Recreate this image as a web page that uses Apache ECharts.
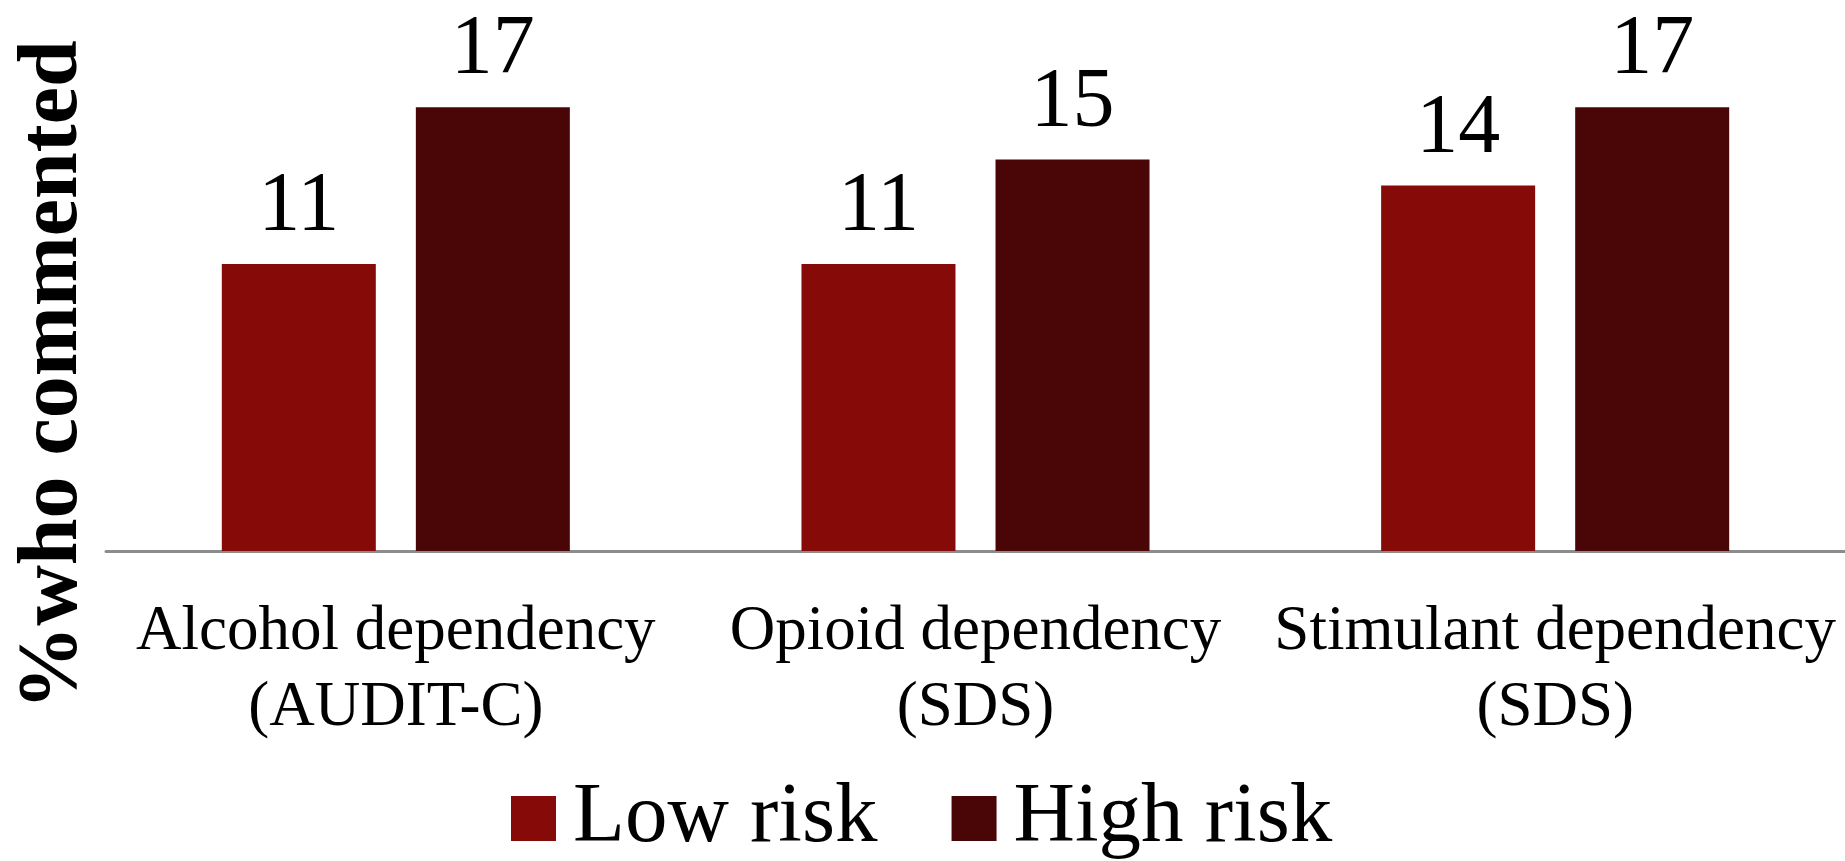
<!DOCTYPE html>
<html>
<head>
<meta charset="utf-8">
<title>% who commented</title>
<script src="https://cdn.jsdelivr.net/npm/echarts@6/dist/echarts.min.js"></script>
<style>
  html, body { margin: 0; padding: 0; background: #fff; }
  #chart { width: 1845px; height: 861px; }
</style>
</head>
<body>
<div id="chart"></div>
<script>
// data
const categories = ['Alcohol dependency\n(AUDIT-C)', 'Opioid dependency\n(SDS)', 'Stimulant dependency\n(SDS)']
const seriesNames = ['Low risk', 'High risk']
const lowRisk = [11, 11, 14]
const highRisk = [17, 15, 17]
const yTitle = '%who commented'

const serif = '"Liberation Serif", "DejaVu Serif", serif'
const chart = echarts.init(document.getElementById('chart'))

const option = {
  animation: false,
  color: ['#850a08', '#4a0606'],
  textStyle: { fontFamily: serif, color: '#000' },
  grid: { left: 106, right: 0, top: 29, bottom: 310 },
  legend: {
    data: seriesNames,
    left: 506,
    top: 771,
    itemWidth: 45,
    itemHeight: 45,
    itemGap: 74,
    icon: 'rect',
    itemStyle: { borderWidth: 0 },
    textStyle: { fontFamily: serif, fontSize: 85, color: '#000', padding: [0, 0, 0, 12] },
  },
  graphic: [
    {
      type: 'text',
      x: 54,
      y: 375,
      rotation: Math.PI / 2,
      style: {
        text: yTitle,
        font: 'bold 84px ' + serif,
        fill: '#000',
        align: 'center',
        verticalAlign: 'middle',
      },
    },
  ],
  xAxis: {
    type: 'category',
    data: categories,
    axisLine: { show: true, lineStyle: { color: '#8c8c8c', width: 3 } },
    axisTick: { show: false },
    axisLabel: {
      interval: 0,
      margin: 43,
      fontFamily: serif,
      fontSize: 63,
      lineHeight: 76,
      color: '#000',
    },
  },
  yAxis: {
    type: 'value',
    min: 0,
    max: 20,
    show: false,
    splitLine: { show: false },
  },
  series: [
    {
      name: seriesNames[0],
      type: 'bar',
      data: lowRisk,
      barWidth: 154,
      barGap: '26%',
      label: { show: true, position: 'top', distance: 14, fontFamily: serif, fontSize: 84, color: '#000' },
    },
    {
      name: seriesNames[1],
      type: 'bar',
      data: highRisk,
      barWidth: 154,
      barGap: '26%',
      label: { show: true, position: 'top', distance: 14, fontFamily: serif, fontSize: 84, color: '#000' },
    },
  ],
}
chart.setOption(option)
</script>
</body>
</html>
